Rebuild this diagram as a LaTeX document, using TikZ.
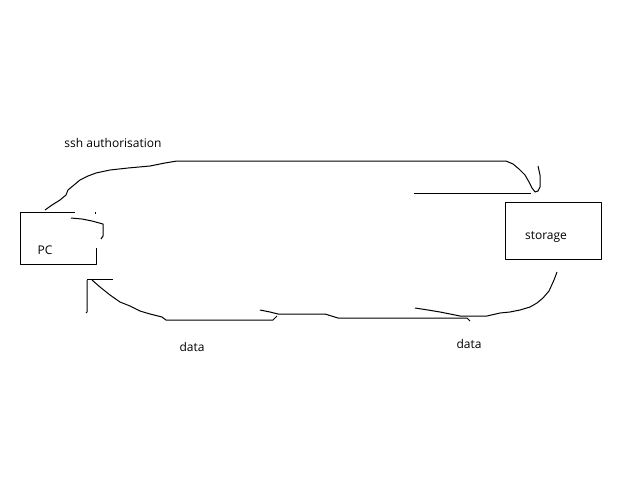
\documentclass[tikz,border=0pt]{standalone}
\usepackage{fontspec}
\setmainfont{Open Sans}
\tikzset{
  pen/.style={line width=1pt, black, line join=round},
  lbl/.style={font=\fontsize{12}{14}\selectfont, text=black, inner sep=0pt}
}
\begin{document}
\begin{tikzpicture}[x=1pt,y=-1pt]
\useasboundingbox (0,0) rectangle (640,480);
% labels
\node[lbl] (ssh) at (113,143) {ssh authorisation};
\node[lbl] (pc) at (45,250) {PC};
\node[lbl] (st) at (546,237) {storage};
\node[lbl] (d1) at (192,347) {data};
\node[lbl] (d2) at (469,344) {data};
% PC box (open)
\draw[pen] (75,212) -- (20,212) -- (20,264) -- (96,264) -- (96,248);
\draw[pen] (71,218) -- (82,219) -- (92,221) -- (103,224) -- (103,236) -- (101,239);
\fill (95,212) rectangle (96,213.5);
% storage box
\draw[pen] (505,202) rectangle (601,259);
% ssh path
\draw[pen] (45,210) -- (52,205) -- (60,200) -- (66,195) -- (68,190) -- (74,185) -- (80,180) -- (88,176) -- (96,173) -- (110,170) -- (128,168) -- (150,166) -- (165,163) -- (177,161) -- (506,161) -- (513,164) -- (519,169) -- (525,175) -- (529,182) -- (532,188) -- (535,192) -- (538,191) -- (540,187) -- (540,175) -- (538,166);
\draw[pen] (414,193) -- (531,193);
% bottom data path
\draw[pen] (557,272) -- (554,280) -- (549,291) -- (543,298) -- (537,303) -- (530,307) -- (520,310) -- (510,312) -- (500,313) -- (487,316) -- (460,316) -- (440,312) -- (428,310) -- (415,308);
\draw[pen] (260,310) -- (270,312) -- (278,314) -- (325,314) -- (338,318) -- (467,318) -- (470,321);
\draw[pen] (92,280) -- (100,287) -- (110,295) -- (120,302) -- (130,306) -- (140,311) -- (150,314) -- (162,317) -- (166,320) -- (273,320) -- (277,316);
% arrow head
\draw[pen] (87,280) -- (87,312) -- (86,313);
\draw[pen] (87,279) -- (113,279);
\end{tikzpicture}
\end{document}
